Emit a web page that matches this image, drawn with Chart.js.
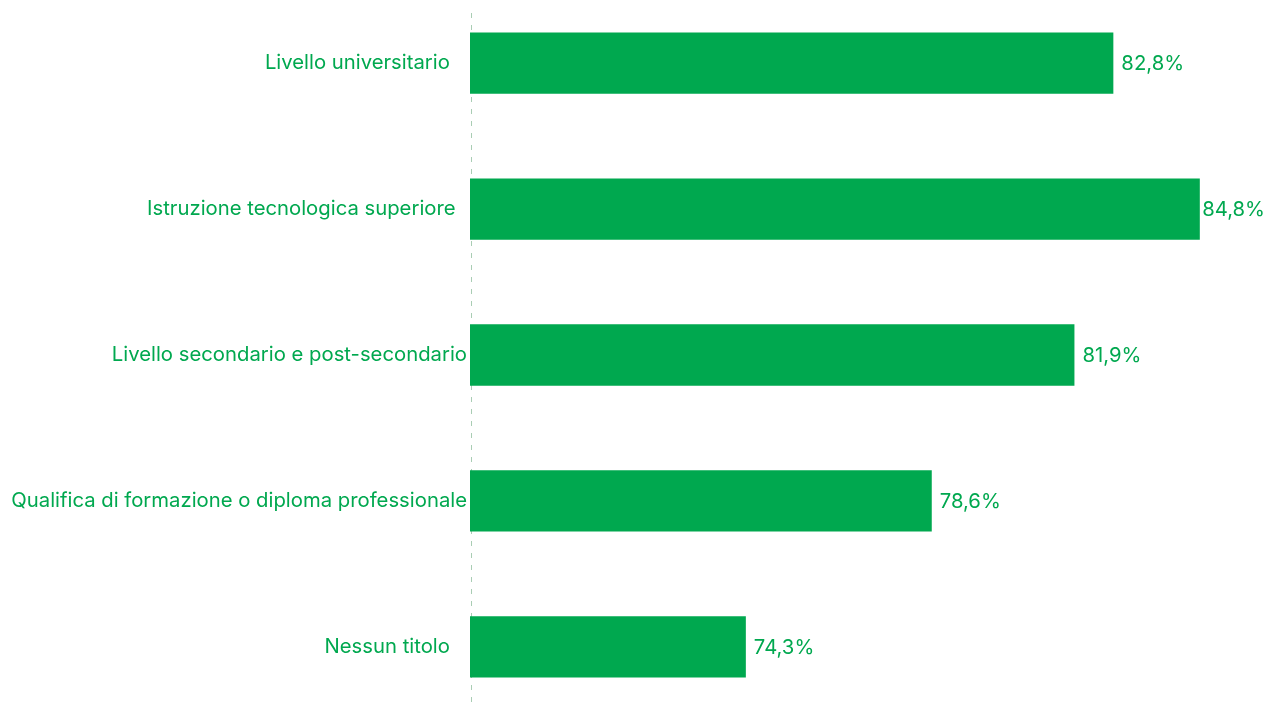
<!DOCTYPE html>
<html>
<head>
<meta charset="utf-8">
<script src="https://cdn.jsdelivr.net/npm/chart.js@4/dist/chart.umd.min.js"></script>
<style>
  html, body { margin: 0; padding: 0; background: #fff; overflow: hidden; }
  #wrap { position: absolute; left: 0; top: -25px; width: 1267px; height: 760px; }
</style>
</head>
<body>
<div id="wrap"><canvas id="myChart"></canvas></div>
<script>
// categories and values
var categories = [
  "Livello universitario   ",
  "Istruzione tecnologica superiore  ",
  "Livello secondario e post-secondario",
  "Qualifica di formazione o diploma professionale",
  "Nessun titolo   "
];
var shares = [82.8, 84.8, 81.9, 78.6, 74.3];

var green = "#00a84f";

// dashed line along the left edge of the bars
var dashedAxis = {
  id: "dashedAxis",
  beforeDatasetsDraw: function (chart) {
    var c = chart.ctx;
    var x = chart.chartArea.left + 1.5;
    c.save();
    c.strokeStyle = "#a9cdb4";
    c.lineWidth = 1;
    c.setLineDash([5, 7]);
    c.beginPath();
    c.moveTo(x, 38);
    c.lineTo(x, chart.chartArea.bottom);
    c.stroke();
    c.restore();
  }
};

// draws the value at the end of each bar
var valueLabels = {
  id: "valueLabels",
  afterDatasetsDraw: function (chart) {
    var c = chart.ctx;
    var meta = chart.getDatasetMeta(0);
    c.save();
    c.font = "20.3px Inter";
    c.fillStyle = green;
    c.textAlign = "left";
    c.textBaseline = "middle";
    meta.data.forEach(function (bar, i) {
      var txt = shares[i].toFixed(1).replace(".", ",") + "%";
      var w = c.measureText(txt).width;
      var x = Math.min(bar.x + 8, chart.width - 2 - w);
      c.fillText(txt, x, bar.y + 1);
    });
    c.restore();
  }
};

var ctx = document.getElementById("myChart");
var myChart = new Chart(ctx, {
  type: "bar",
  data: {
    labels: categories,
    datasets: [{
      data: shares,
      backgroundColor: green,
      barPercentage: 0.42,
      categoryPercentage: 1
    }]
  },
  options: {
    indexAxis: "y",
    responsive: true,
    maintainAspectRatio: false,
    animation: false,
    layout: { padding: { left: 0, right: 14, top: 0, bottom: 0 } },
    plugins: { legend: { display: false }, tooltip: { enabled: false } },
    scales: {
      x: {
        min: 67.92,
        max: 86.03,
        display: false
      },
      y: {
        afterFit: function (scale) { scale.width = 470; },
        grid: { display: false, drawTicks: false },
        border: { display: false },
        ticks: {
          color: green,
          padding: 3,
          font: { family: "Inter", size: 20.3 }
        }
      }
    }
  },
  plugins: [dashedAxis, valueLabels]
});
</script>
</body>
</html>
